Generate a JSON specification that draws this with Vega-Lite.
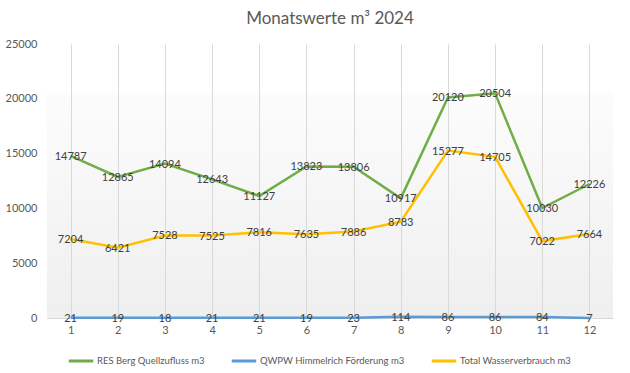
{
  "$schema": "https://vega.github.io/schema/vega-lite/v6.json",
  "width": 566,
  "height": 274,
  "autosize": {"type": "none"},
  "padding": {"left": 47, "top": 44, "right": 17, "bottom": 55},
  "background": "#ffffff",
  "title": {
    "text": "Monatswerte m³ 2024",
    "font": "Lato",
    "fontSize": 17,
    "fontWeight": "normal",
    "color": "#595959",
    "frame": "group",
    "anchor": "middle",
    "offset": 10
  },
  "config": {
    "font": "Lato",
    "view": {
      "stroke": null,
      "fill": {
        "gradient": "linear",
        "x1": 0, "y1": 0, "x2": 0, "y2": 1,
        "stops": [
          {"offset": 0, "color": "#ffffff"},
          {"offset": 0.17, "color": "#ffffff"},
          {"offset": 0.18, "color": "#fcfcfc"},
          {"offset": 1, "color": "#efefef"}
        ]
      }
    }
  },
  "data": {
    "values": [
      {"Monat": 1, "Serie": "RES Berg Quellzufluss m3", "Wert": 14787},
      {"Monat": 2, "Serie": "RES Berg Quellzufluss m3", "Wert": 12865},
      {"Monat": 3, "Serie": "RES Berg Quellzufluss m3", "Wert": 14094},
      {"Monat": 4, "Serie": "RES Berg Quellzufluss m3", "Wert": 12643},
      {"Monat": 5, "Serie": "RES Berg Quellzufluss m3", "Wert": 11127},
      {"Monat": 6, "Serie": "RES Berg Quellzufluss m3", "Wert": 13823},
      {"Monat": 7, "Serie": "RES Berg Quellzufluss m3", "Wert": 13806},
      {"Monat": 8, "Serie": "RES Berg Quellzufluss m3", "Wert": 10917},
      {"Monat": 9, "Serie": "RES Berg Quellzufluss m3", "Wert": 20120},
      {"Monat": 10, "Serie": "RES Berg Quellzufluss m3", "Wert": 20504},
      {"Monat": 11, "Serie": "RES Berg Quellzufluss m3", "Wert": 10030},
      {"Monat": 12, "Serie": "RES Berg Quellzufluss m3", "Wert": 12226},
      {"Monat": 1, "Serie": "QWPW Himmelrich Förderung m3", "Wert": 21},
      {"Monat": 2, "Serie": "QWPW Himmelrich Förderung m3", "Wert": 19},
      {"Monat": 3, "Serie": "QWPW Himmelrich Förderung m3", "Wert": 18},
      {"Monat": 4, "Serie": "QWPW Himmelrich Förderung m3", "Wert": 21},
      {"Monat": 5, "Serie": "QWPW Himmelrich Förderung m3", "Wert": 21},
      {"Monat": 6, "Serie": "QWPW Himmelrich Förderung m3", "Wert": 19},
      {"Monat": 7, "Serie": "QWPW Himmelrich Förderung m3", "Wert": 23},
      {"Monat": 8, "Serie": "QWPW Himmelrich Förderung m3", "Wert": 114},
      {"Monat": 9, "Serie": "QWPW Himmelrich Förderung m3", "Wert": 86},
      {"Monat": 10, "Serie": "QWPW Himmelrich Förderung m3", "Wert": 86},
      {"Monat": 11, "Serie": "QWPW Himmelrich Förderung m3", "Wert": 84},
      {"Monat": 12, "Serie": "QWPW Himmelrich Förderung m3", "Wert": 7},
      {"Monat": 1, "Serie": "Total Wasserverbrauch m3", "Wert": 7204},
      {"Monat": 2, "Serie": "Total Wasserverbrauch m3", "Wert": 6421},
      {"Monat": 3, "Serie": "Total Wasserverbrauch m3", "Wert": 7528},
      {"Monat": 4, "Serie": "Total Wasserverbrauch m3", "Wert": 7525},
      {"Monat": 5, "Serie": "Total Wasserverbrauch m3", "Wert": 7816},
      {"Monat": 6, "Serie": "Total Wasserverbrauch m3", "Wert": 7635},
      {"Monat": 7, "Serie": "Total Wasserverbrauch m3", "Wert": 7886},
      {"Monat": 8, "Serie": "Total Wasserverbrauch m3", "Wert": 8783},
      {"Monat": 9, "Serie": "Total Wasserverbrauch m3", "Wert": 15277},
      {"Monat": 10, "Serie": "Total Wasserverbrauch m3", "Wert": 14705},
      {"Monat": 11, "Serie": "Total Wasserverbrauch m3", "Wert": 7022},
      {"Monat": 12, "Serie": "Total Wasserverbrauch m3", "Wert": 7664}
    ]
  },
  "encoding": {
    "x": {
      "field": "Monat",
      "type": "quantitative",
      "scale": {"domain": [0.5, 12.5], "nice": false, "zero": false},
      "axis": {
        "title": null,
        "values": [1, 2, 3, 4, 5, 6, 7, 8, 9, 10, 11, 12],
        "format": "d",
        "grid": true,
        "gridColor": "#d9d9d9",
        "gridWidth": 1,
        "ticks": false,
        "domain": true,
        "domainColor": "#d9d9d9",
        "labelColor": "#595959",
        "labelFontSize": 11,
        "labelPadding": 6
      }
    },
    "y": {
      "field": "Wert",
      "type": "quantitative",
      "scale": {"domain": [0, 25000], "nice": false},
      "axis": {
        "title": null,
        "values": [0, 5000, 10000, 15000, 20000, 25000],
        "format": "d",
        "grid": false,
        "ticks": false,
        "domain": false,
        "labelColor": "#595959",
        "labelFontSize": 11,
        "labelPadding": 10
      }
    }
  },
  "layer": [
    {
      "mark": {"type": "line", "strokeWidth": 2.5},
      "encoding": {
        "color": {
          "field": "Serie",
          "type": "nominal",
          "scale": {
            "domain": ["RES Berg Quellzufluss m3", "QWPW Himmelrich Förderung m3", "Total Wasserverbrauch m3"],
            "range": ["#70AD47", "#5B9BD5", "#FFC000"]
          },
          "legend": {
            "title": null,
            "orient": "none",
            "legendX": 20,
            "legendY": 303,
            "direction": "horizontal",
            "symbolType": "stroke",
            "symbolSize": 600,
            "symbolStrokeWidth": 3,
            "labelColor": "#595959",
            "labelFontSize": 9.5,
            "labelLimit": 300,
            "columnPadding": 20,
            "labelOffset": 2
          }
        }
      }
    },
    {
      "mark": {"type": "text", "fontSize": 11, "color": "#404040", "dy": 1},
      "encoding": {
        "text": {"field": "Wert", "type": "quantitative", "format": "d"}
      }
    }
  ]
}
